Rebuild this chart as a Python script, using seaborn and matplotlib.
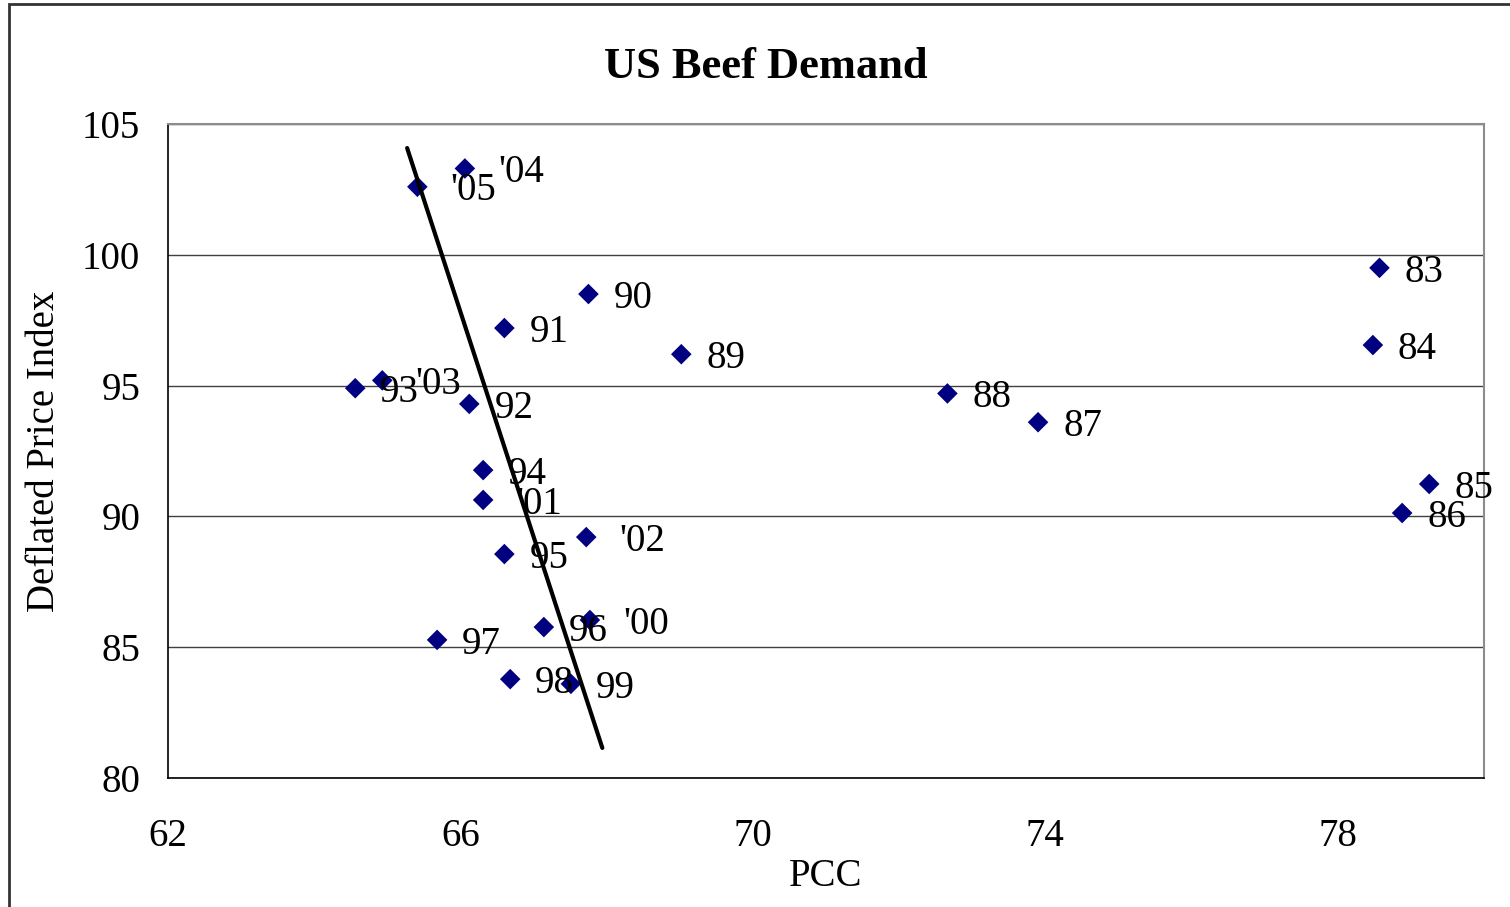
import numpy as np
import pandas as pd
import matplotlib
matplotlib.use('Agg')
import matplotlib.pyplot as plt
import seaborn as sns
from matplotlib.patches import Rectangle

# Per capita consumption vs deflated price index, by year
years = ['83', '84', '85', '86', '87', '88', '89', '90', '91', '92', '93',
         '94', '95', '96', '97', '98', '99', "'00", "'01", "'02", "'03",
         "'04", "'05"]
pcc = [78.57, 78.48, 79.25, 78.88, 73.90, 72.66, 69.02, 67.75, 66.60, 66.12,
       64.56, 66.31, 66.60, 67.14, 65.68, 66.68, 67.51, 67.77, 66.31, 67.72,
       64.93, 66.06, 65.41]
price = [99.5, 96.55, 91.24, 90.13, 93.6, 94.7, 96.2, 98.5, 97.2, 94.3,
         94.9, 91.77, 88.56, 85.77, 85.28, 83.78, 83.6, 86.04, 90.63, 89.21,
         95.2, 103.3, 102.6]

# trend line end points
trend_x = [65.27, 67.94]
trend_y = [104.08, 81.15]

df = pd.DataFrame({'PCC': pcc, 'Price': price, 'Year': years})
trend = pd.DataFrame({'PCC': trend_x, 'Price': trend_y})

sns.set_style('white')
plt.rcParams['font.family'] = ['Liberation Serif', 'DejaVu Serif']
plt.rcParams['text.color'] = 'black'
plt.rcParams['axes.labelcolor'] = 'black'
plt.rcParams['xtick.color'] = 'black'
plt.rcParams['ytick.color'] = 'black'

fig = plt.figure(figsize=(15.1, 9.07), dpi=100)
ax = fig.add_axes([0.1113, 0.1422, 0.8715, 0.7211])

sns.scatterplot(data=df, x='PCC', y='Price', marker='D', s=110,
                color='#000080', edgecolor='none', ax=ax, zorder=3)
sns.lineplot(data=trend, x='PCC', y='Price', sort=False, color='black',
             linewidth=3, ax=ax, zorder=4)

for xx, yy, lab in zip(pcc, price, years):
    dx = 24 if lab.startswith("'") else 18
    ax.annotate(lab, (xx, yy), xytext=(dx, -3), textcoords='offset points',
                va='center', ha='left', fontsize=28, color='black', zorder=5)

ax.set_xlim(62, 80)
ax.set_ylim(80, 105)
ax.set_xticks([62, 66, 70, 74, 78])
ax.set_yticks([80, 85, 90, 95, 100, 105])
ax.yaxis.grid(True, color='#404040', linewidth=1)
ax.set_axisbelow(True)

for s in ['top', 'right']:
    ax.spines[s].set_color('#8c8c8c')
    ax.spines[s].set_linewidth(1.5)
for s in ['left', 'bottom']:
    ax.spines[s].set_color('black')
    ax.spines[s].set_linewidth(1.2)

ax.tick_params(axis='both', direction='out', length=7, width=1,
               color='black', labelsize=28)
ax.tick_params(axis='x', pad=22)
ax.tick_params(axis='y', pad=13)

ax.set_xlabel('PCC', fontsize=28, labelpad=2)
ax.set_ylabel('Deflated Price Index', fontsize=28, labelpad=14)
fig.text(0.507, 0.926, 'US Beef Demand', ha='center', va='center',
         fontsize=32, fontweight='bold')

# chart area border
fig.patches.append(Rectangle((9 / 1510, -0.05), 1.2, 1.05 - 4 / 907,
                             transform=fig.transFigure, fill=False,
                             edgecolor='#333333', linewidth=2))

fig.savefig('out.png', dpi=100)
